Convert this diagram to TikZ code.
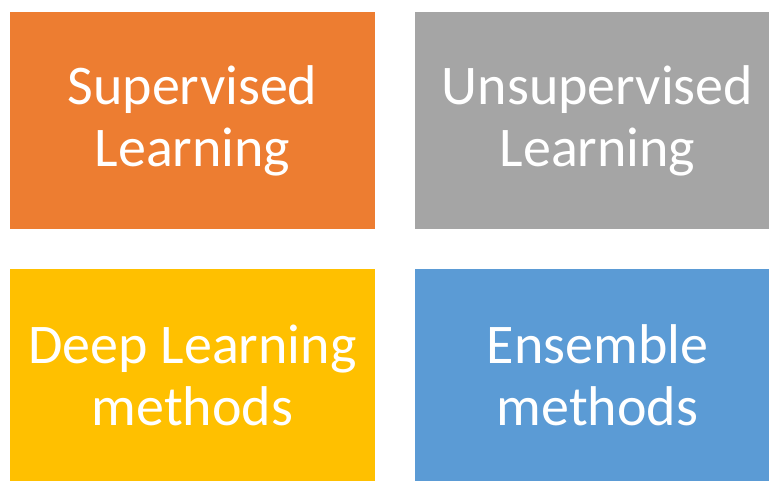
\documentclass[tikz,border=0pt]{standalone}
\usepackage{fontspec}
\setmainfont{Carlito}
\usepackage{tikz}
\usetikzlibrary{positioning}

\definecolor{boxorange}{HTML}{ED7D31}
\definecolor{boxgray}{HTML}{A5A5A5}
\definecolor{boxyellow}{HTML}{FFC000}
\definecolor{boxblue}{HTML}{5B9BD5}

\begin{document}
\begin{tikzpicture}[x=1pt, y=-1pt,
  area/.style={inner sep=0pt, align=center, text=white,
    minimum width=365pt, minimum height=217pt,
    font=\fontsize{56}{62}\selectfont}]

 \useasboundingbox (0,0) rectangle (769,481);
 \clip (0,0) rectangle (769,481);

 %top row
 \node[area, fill=boxorange] (sup) at (192.5, 120.5) {Supervised\\Learning};
 \node[area, fill=boxgray] (unsup) at (597.5, 120.5) {Unsupervised\\Learning};

 %bottom row
 \node[area, fill=boxyellow, minimum height=212pt] (deep) at (192.5, 375) {Deep Learning\\methods};
 \node[area, fill=boxblue, minimum height=212pt] (ens) at (597.5, 375) {Ensemble\\methods};

\end{tikzpicture}
\end{document}
